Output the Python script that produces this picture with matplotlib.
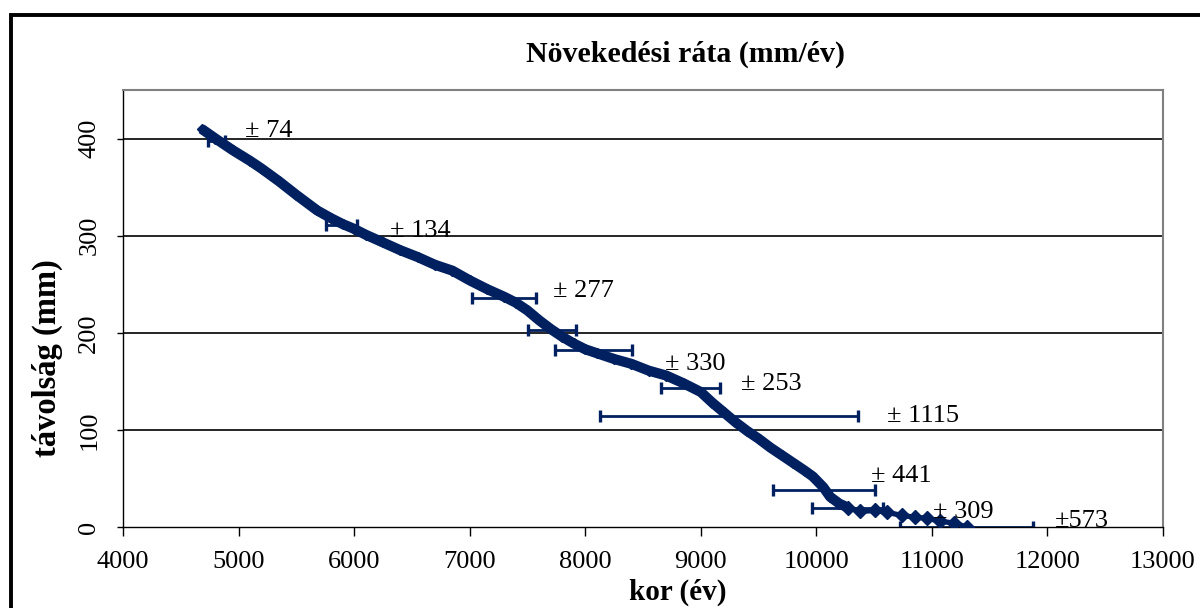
import matplotlib
matplotlib.use("Agg")
import matplotlib.pyplot as plt
from matplotlib.patches import Rectangle

plt.rcParams['font.family'] = ['Liberation Serif', 'DejaVu Serif']

# dense part of the age/distance curve
kor = [4680, 4800, 4950, 5100, 5200, 5350, 5500, 5680, 5800, 5900, 6000, 6100,
       6250, 6400, 6550, 6700, 6850, 7000, 7150, 7300, 7400, 7500, 7600, 7700,
       7800, 7900, 8000, 8100, 8250, 8400, 8550, 8700, 8850, 9000, 9100, 9200,
       9300, 9400, 9500, 9600, 9700, 9800, 9900, 9970, 10060, 10120, 10200, 10274]
tav = [410, 400, 388, 377, 369, 356, 342, 326, 318, 312, 307, 301,
       293, 285, 278, 270, 264, 254, 245, 237, 231, 223, 213, 204,
       196, 189, 183, 179, 173, 168, 161, 156, 148, 139, 128, 118,
       108, 99, 91, 82, 74, 66, 58, 52, 41, 31, 24, 20]

# sparse tail
kor_tail = [10274, 10378, 10507, 10611, 10741, 10854, 10957, 11070, 11191, 11304]
tav_tail = [20, 16, 17, 15, 12, 10, 9, 6, 4, 0]

# horizontal error bars
hiba_x = [4810, 5895, 7300, 7712, 8072, 8910, 9244, 10070, 10270, 11300]
hiba_y = [397, 311, 236, 203, 182, 143, 114, 38, 20, 0]
hiba_err = [74, 134, 277, 207, 330, 253, 1115, 441, 309, 573]

# annotation texts and where they sit (left edge, baseline)
cimkek = ['± 74', '± 134', '± 277', '± 330', '± 253', '± 1115', '± 441', '± 309', '±573']
cimke_x = [5056, 6310, 7721, 8690, 9348, 10611, 10473, 11010, 12065]
cimke_y = [402, 299, 237, 162, 141, 108, 46, 9, 0]

navy = '#002060'

fig = plt.figure(figsize=(12, 6.08), dpi=100)
ax = fig.add_axes([123 / 1200, 1 - 527 / 608, 1040 / 1200, 437 / 608])

ax.errorbar(hiba_x, hiba_y, xerr=hiba_err, fmt='none', ecolor=navy,
            elinewidth=2, capsize=4.5, capthick=2.4, zorder=2)
ax.plot(kor_tail, tav_tail, '-D', color=navy, lw=3.8, ms=7, zorder=3)
ax.plot(kor, tav, '-D', color=navy, lw=7.3, ms=5.5, zorder=4,
        solid_capstyle='butt')

for t, x, y in zip(cimkek, cimke_x, cimke_y):
    ax.text(x, y, t, fontsize=19, ha='left', va='baseline', zorder=5)

ax.set_xlim(4000, 13000)
ax.set_ylim(0, 450)
ax.set_xticks(range(4000, 13001, 1000))
ax.set_yticks(range(0, 401, 100))
for g in range(100, 401, 100):
    ax.axhline(g, color='black', lw=1.2, zorder=1)

ax.tick_params(axis='x', direction='out', length=6.5, width=1, pad=11,
               labelsize=19)
ax.tick_params(axis='y', direction='out', length=4.3, width=1, pad=12,
               labelsize=19, labelrotation=90)
for lab in ax.get_yticklabels():
    lab.set_va('center')

for s in ['left', 'bottom']:
    ax.spines[s].set_color('black')
    ax.spines[s].set_linewidth(1)
for s in ['top', 'right']:
    ax.spines[s].set_color('#808080')
    ax.spines[s].set_linewidth(1.5)

fig.text(686 / 1200, 1 - 62 / 608, 'Növekedési ráta (mm/év)', fontsize=21.5,
         fontweight='bold', ha='center', va='baseline')
fig.text(678 / 1200, 1 - 600 / 608, 'kor (év)', fontsize=21,
         fontweight='bold', ha='center', va='baseline')
fig.text(63 / 1200, 1 - 358 / 608, 'távolság (mm)', fontsize=23.5,
         fontweight='bold', rotation=90, ha='right', va='center')

# chart area frame
fig.patches.append(Rectangle((11 / 1200, -0.2), 1.2, 1.2 - 15 / 608,
                             transform=fig.transFigure, fill=False,
                             edgecolor='black', lw=2.8, clip_on=False))

fig.savefig('out.png', dpi=100)
